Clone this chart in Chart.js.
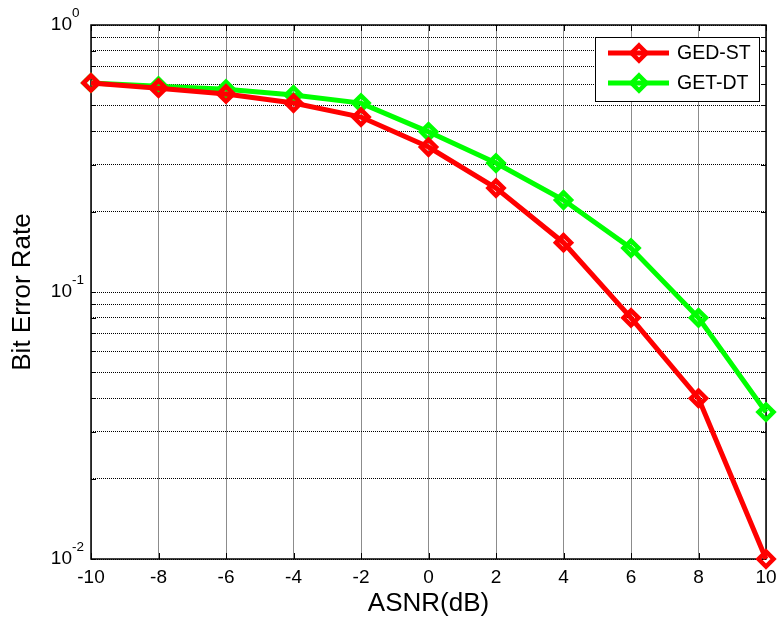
<!DOCTYPE html>
<html>
<head>
<meta charset="utf-8">
<script src="https://cdn.jsdelivr.net/npm/chart.js@4.4.1/dist/chart.umd.min.js"></script>
<style>
  html, body { margin: 0; padding: 0; background: #ffffff; }
  #wrap { width: 778px; height: 622px; }
</style>
</head>
<body>
<div id="wrap"><canvas id="c" width="778" height="622"></canvas></div>
<script>
const categories = [-10, -8, -6, -4, -2, 0, 2, 4, 6, 8, 10];
const seriesNames = ['GED-ST', 'GET-DT'];
const gedST = [0.607, 0.58, 0.552, 0.51, 0.452, 0.349, 0.245, 0.153, 0.080, 0.040, 0.010];
const getDT = [0.607, 0.59, 0.575, 0.547, 0.51, 0.398, 0.304, 0.221, 0.146, 0.080, 0.0355];
const xTickValues = [-10, -8, -6, -4, -2, 0, 2, 4, 6, 8, 10];
const yMajorTicks = [0.01, 0.1, 1];
const yTickBase = ['10', '10', '10'];
const yTickExp = ['-2', '-1', '0'];
const seriesColors = ['#ff0000', '#00ff00'];

const FONT = "'Liberation Sans', Arial, sans-serif";

// log-scale tick positions (1..9 per decade)
const yAllTicks = [];
for (let d = 0; d < yMajorTicks.length - 1; d++) {
  for (let m = 1; m < 10; m++) yAllTicks.push(yMajorTicks[d] * m);
}
yAllTicks.push(yMajorTicks[yMajorTicks.length - 1]);

function toPoints(vals) { return categories.map((x, i) => ({ x: x, y: vals[i] })); }

function drawDiamond(ctx, x, y, r, color, lw) {
  ctx.save();
  ctx.beginPath();
  ctx.moveTo(x, y - r); ctx.lineTo(x + r, y); ctx.lineTo(x, y + r); ctx.lineTo(x - r, y); ctx.closePath();
  ctx.lineWidth = lw; ctx.strokeStyle = color; ctx.stroke();
  ctx.restore();
}

const framePlugin = {
  id: 'frame',
  beforeDatasetsDraw(chart) {
    const { ctx, chartArea: a, scales } = chart;
    ctx.save();
    ctx.strokeStyle = '#000'; ctx.lineWidth = 1.5;
    ctx.strokeRect(a.left, a.top, a.right - a.left, a.bottom - a.top);
    ctx.lineWidth = 1;
    ctx.beginPath();
    xTickValues.forEach(v => {
      const px = Math.round(scales.x.getPixelForValue(v)) + 0.5;
      ctx.moveTo(px, a.bottom); ctx.lineTo(px, a.bottom - 6);
      ctx.moveTo(px, a.top); ctx.lineTo(px, a.top + 6);
    });
    yAllTicks.forEach(v => {
      const py = Math.round(scales.y.getPixelForValue(v)) + 0.5;
      ctx.moveTo(a.left, py); ctx.lineTo(a.left + 5, py);
      ctx.moveTo(a.right, py); ctx.lineTo(a.right - 5, py);
    });
    ctx.stroke();
    ctx.restore();
  },
  afterDraw(chart) {
    const { ctx, scales } = chart;
    // y tick labels with superscripts
    ctx.save();
    ctx.fillStyle = '#000';
    yMajorTicks.forEach((v, i) => {
      const py = scales.y.getPixelForValue(v);
      ctx.font = '19px ' + FONT;
      ctx.textAlign = 'right'; ctx.textBaseline = 'middle';
      ctx.fillText(yTickBase[i], 72, py);
      ctx.font = '13.5px ' + FONT;
      ctx.textAlign = 'left';
      ctx.fillText(yTickExp[i], 72, py - 11.5);
    });
    // legend
    const bx = 595.5, by = 37.5, bw = 164, bh = 64;
    ctx.fillStyle = '#fff';
    ctx.fillRect(bx, by, bw, bh);
    ctx.strokeStyle = '#000'; ctx.lineWidth = 1;
    ctx.strokeRect(bx, by, bw, bh);
    const rows = [53, 83];
    chart.data.datasets.forEach((ds, i) => {
      const y = rows[i];
      ctx.beginPath();
      ctx.moveTo(608, y); ctx.lineTo(669, y);
      ctx.lineWidth = 5; ctx.strokeStyle = ds.borderColor; ctx.stroke();
      drawDiamond(ctx, 639, y, 7.5, ds.borderColor, 4.5);
      ctx.fillStyle = '#000';
      ctx.font = '19.5px ' + FONT;
      ctx.textAlign = 'left'; ctx.textBaseline = 'middle';
      ctx.fillText(ds.label, 677, y + 1);
    });
    ctx.restore();
  }
};

new Chart(document.getElementById('c'), {
  type: 'line',
  data: {
    datasets: [
      { label: seriesNames[0], data: toPoints(gedST), borderColor: seriesColors[0], backgroundColor: 'rgba(0,0,0,0)',
        borderWidth: 5, pointStyle: 'rectRot', pointRadius: 7.5, pointBorderWidth: 4.5,
        pointBackgroundColor: 'rgba(0,0,0,0)', pointBorderColor: seriesColors[0], tension: 0, clip: false },
      { label: seriesNames[1], data: toPoints(getDT), borderColor: seriesColors[1], backgroundColor: 'rgba(0,0,0,0)',
        borderWidth: 5, pointStyle: 'rectRot', pointRadius: 7.5, pointBorderWidth: 4.5,
        pointBackgroundColor: 'rgba(0,0,0,0)', pointBorderColor: seriesColors[1], tension: 0, clip: false }
    ]
  },
  options: {
    responsive: false,
    animation: false,
    devicePixelRatio: 1,
    layout: { padding: { top: 25, right: 10, left: 0, bottom: 0 } },
    plugins: { legend: { display: false }, tooltip: { enabled: false } },
    scales: {
      x: {
        type: 'linear', min: -10, max: 10,
        afterBuildTicks(s) { s.ticks = xTickValues.map(v => ({ value: v })); },
        afterFit(s) { s.height = 63; s.paddingLeft = 0; s.paddingRight = 0; },
        ticks: { color: '#000', font: { family: FONT, size: 19 }, padding: 7, maxRotation: 0, autoSkip: false,
          callback: v => String(v) },
        grid: { color: 'rgba(0,0,0,0.45)', lineWidth: 1, drawTicks: false },
        border: { display: false },
        title: { display: true, text: 'ASNR(dB)', color: '#000', font: { family: FONT, size: 26 }, padding: { top: 0, bottom: 3 } }
      },
      y: {
        type: 'logarithmic', min: 0.01, max: 1,
        afterBuildTicks(s) { s.ticks = yAllTicks.map(v => ({ value: v })); },
        afterFit(s) { s.width = 91; s.paddingTop = 0; s.paddingBottom = 0; },
        ticks: { display: false },
        grid: { color: '#000', lineWidth: 1, drawTicks: false },
        border: { display: false, dash: [1, 1] },
        title: { display: true, text: 'Bit Error Rate', color: '#000', font: { family: FONT, size: 26 }, padding: { top: 7, bottom: 0 } }
      }
    }
  },
  plugins: [framePlugin]
});
</script>
</body>
</html>
